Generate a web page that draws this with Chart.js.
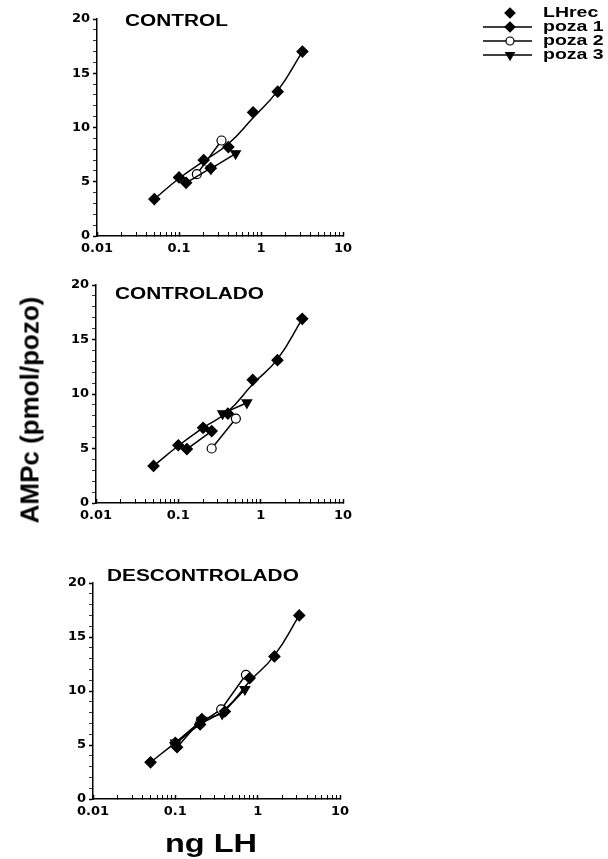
<!DOCTYPE html>
<html>
<head>
<meta charset="utf-8">
<script src="https://cdn.jsdelivr.net/npm/chart.js@4.4.1/dist/chart.umd.min.js"></script>
<style>
  html, body { margin: 0; padding: 0; background: #fff; }
  body { width: 608px; height: 859px; position: relative; overflow: hidden; font-family: Arial, "Liberation Sans", sans-serif; }
  .panel { position: absolute; left: 0; }
  #yTitle {
    position: absolute; left: 30px; top: 410px;
    transform: translate(-50%, -50%) rotate(-90deg);
    font-weight: bold; font-size: 26px; white-space: nowrap; color: #000;
  }
</style>
</head>
<body>
<canvas id="chartControl" class="panel" width="608" height="265" style="top:0px"></canvas>
<canvas id="chartControlado" class="panel" width="608" height="290" style="top:265px"></canvas>
<canvas id="chartDescontrolado" class="panel" width="608" height="304" style="top:555px"></canvas>
<div id="yTitle">AMPc (pmol/pozo)</div>
<script>
// Standard curve doses (ng LH)
const doseLH = [0.05, 0.1, 0.2, 0.4, 0.8, 1.6, 3.2];

// CONTROL
const lhrecControl = [3.4, 5.4, 7.0, 8.2, 11.4, 13.3, 17.0];
const curveControl = [3.4, 5.3, 6.9, 8.5, 10.9, 13.4, 17.0];   // drawn standard curve
const poza1ControlX = [0.122, 0.244];
const poza1ControlY = [4.9, 6.25];
const poza2ControlX = [0.165, 0.33];
const poza2ControlY = [5.7, 8.8];
const poza3ControlX = [0.245, 0.49];
const poza3ControlY = [6.2, 7.6];

// CONTROLADO
const lhrecControlado = [3.4, 5.3, 6.9, 8.2, 11.3, 13.1, 16.9];
const curveControlado = [3.4, 5.25, 6.9, 8.4, 10.9, 13.2, 16.9];
const poza1ControladoX = [0.127, 0.254];
const poza1ControladoY = [4.95, 6.6];
const poza2ControladoX = [0.254, 0.5];
const poza2ControladoY = [5.0, 7.75];
const poza3ControladoX = [0.345, 0.68];
const poza3ControladoY = [8.2, 9.2];

// DESCONTROLADO
const lhrecDescontrolado = [3.4, 5.2, 6.9, 8.1, 11.2, 13.2, 17.0];
const curveDescontrolado = [3.4, 5.2, 6.9, 8.3, 10.9, 13.3, 17.0];
const poza1DescX = [0.105, 0.21];
const poza1DescY = [4.8, 7.4];
const poza2DescX = [0.1, 0.2, 0.36, 0.72];
const poza2DescY = [5.1, 7.0, 8.3, 11.5];
const poza3DescX = [0.1, 0.21, 0.37, 0.7];
const poza3DescY = [5.2, 7.3, 7.9, 10.15];

// Axis ticks
const xMajorTicks = [0.01, 0.1, 1, 10];
const yMajorTicks = [0, 5, 10, 15, 20];

const FONT = 'Arial, "Liberation Sans", sans-serif';
const TICK_FONT = '"DejaVu Sans", Arial, sans-serif';

function toPoints(xs, ys) {
    return xs.map((x, i) => ({ x: x, y: ys[i] }));
}

// log minor ticks 0.01 .. 10
function logTickValues() {
    const vals = [];
    for (let e = -2; e <= 0; e++) {
        for (let m = 1; m <= 9; m++) {
            vals.push(parseFloat((m * Math.pow(10, e)).toPrecision(6)));
        }
    }
    vals.push(10);
    return vals;
}

// the scanned lettering is wide, so stretch it a bit
function wideText(ctx, text, x, y, size, stretch, align) {
    ctx.save();
    ctx.font = 'bold ' + size + 'px ' + FONT;
    ctx.fillStyle = '#000';
    ctx.textBaseline = 'middle';
    ctx.textAlign = 'left';
    const w = ctx.measureText(text).width * stretch;
    const left = align === 'center' ? x - w / 2 : x;
    ctx.translate(left, y);
    ctx.scale(stretch, 1);
    ctx.fillText(text, 0, 0);
    ctx.restore();
}

const styles = {
    lhrec: { pointStyle: 'rectRot', radius: 5.5, rotation: 0, bg: '#000' },
    poza1: { pointStyle: 'rectRot', radius: 5.5, rotation: 0, bg: '#000' },
    poza2: { pointStyle: 'circle', radius: 4.5, rotation: 0, bg: '#fff' },
    poza3: { pointStyle: 'triangle', radius: 5.5, rotation: 180, bg: '#000' }
};

function dataset(label, points, st, showLine) {
    return {
        label: label,
        data: points,
        showLine: showLine,
        borderColor: '#000',
        borderWidth: 1.5,
        backgroundColor: st.bg,
        pointBackgroundColor: st.bg,
        pointBorderColor: '#000',
        pointBorderWidth: 1.2,
        pointStyle: st.pointStyle,
        pointRadius: st.radius,
        pointRotation: st.rotation,
        tension: 0,
        order: 0
    };
}

function curveDataset(points) {
    return {
        label: 'curva LHrec',
        data: points,
        showLine: true,
        borderColor: '#000',
        borderWidth: 1.5,
        pointRadius: 0,
        tension: 0.5,
        order: 2
    };
}

// Panel title inside the plot, x axis title under the last panel
const panelTextPlugin = {
    id: 'panelText',
    afterDraw(chart, args, opts) {
        if (!opts) return;
        if (opts.title) {
            wideText(chart.ctx, opts.title, opts.x, opts.y, 16, 1.3, 'left');
        }
        if (opts.xTitle) {
            wideText(chart.ctx, opts.xTitle, opts.xTitleX, opts.xTitleY, 25, 1.3, 'center');
        }
    }
};

// Legend in the top right corner
const sideLegendPlugin = {
    id: 'sideLegend',
    afterDraw(chart, args, opts) {
        if (!opts || !opts.show) return;
        const ctx = chart.ctx;
        const entries = [
            { text: 'LHrec', st: styles.lhrec, line: false },
            { text: 'poza 1', st: styles.poza1, line: true },
            { text: 'poza 2', st: styles.poza2, line: true },
            { text: 'poza 3', st: styles.poza3, line: true }
        ];
        entries.forEach((en, i) => {
            const y = opts.y + i * opts.rowGap;
            ctx.save();
            if (en.line) {
                ctx.strokeStyle = '#000';
                ctx.lineWidth = 1.5;
                ctx.beginPath();
                ctx.moveTo(opts.x - 27, y);
                ctx.lineTo(opts.x + 22, y);
                ctx.stroke();
            }
            ctx.fillStyle = en.st.bg;
            ctx.strokeStyle = '#000';
            ctx.lineWidth = 1.2;
            Chart.helpers.drawPoint(ctx, {
                pointStyle: en.st.pointStyle,
                radius: en.st.radius - 0.5,
                rotation: en.st.rotation,
                borderWidth: 1.2
            }, opts.x, y);
            ctx.restore();
            wideText(ctx, en.text, opts.x + 33, y, 15, 1.3, 'left');
        });
    }
};

function makeChart(canvasId, box, lhrecY, curveY, p1, p2, p3, text, showLegend) {
    const canvas = document.getElementById(canvasId);
    const W = canvas.width, H = canvas.height;
    return new Chart(canvas.getContext('2d'), {
        type: 'scatter',
        data: {
            datasets: [
                curveDataset(toPoints(doseLH, curveY)),
                dataset('LHrec', toPoints(doseLH, lhrecY), styles.lhrec, false),
                dataset('poza 1', toPoints(p1[0], p1[1]), styles.poza1, true),
                dataset('poza 2', toPoints(p2[0], p2[1]), styles.poza2, true),
                dataset('poza 3', toPoints(p3[0], p3[1]), styles.poza3, true)
            ]
        },
        options: {
            responsive: false,
            animation: false,
            layout: {
                padding: { left: 0, top: box.top, right: W - box.right, bottom: 0 }
            },
            scales: {
                x: {
                    type: 'logarithmic',
                    min: 0.01,
                    max: 10,
                    border: { display: true, color: '#000', width: 1.5 },
                    grid: {
                        drawOnChartArea: false,
                        drawTicks: true,
                        tickLength: -4,
                        tickColor: '#000',
                        tickWidth: (c) => (c.tick && xMajorTicks.includes(c.tick.value)) ? 1.5 : 1
                    },
                    afterBuildTicks: (scale) => {
                        scale.ticks = logTickValues().map(v => ({ value: v }));
                    },
                    ticks: {
                        autoSkip: false,
                        maxRotation: 0,
                        color: '#000',
                        padding: 9,
                        font: { family: TICK_FONT, size: 13, weight: 'bold' },
                        callback: (v) => xMajorTicks.includes(v) ? String(v) : ''
                    },
                    afterFit: (scale) => { scale.height = H - box.bottom; }
                },
                y: {
                    min: 0,
                    max: 20,
                    border: { display: true, color: '#000', width: 1.5 },
                    grid: {
                        drawOnChartArea: false,
                        drawTicks: true,
                        tickLength: 4,
                        tickColor: '#000',
                        tickWidth: (c) => (c.tick && c.tick.value % 5 === 0) ? 1.5 : 0.8
                    },
                    ticks: {
                        stepSize: 1,
                        autoSkip: false,
                        color: '#000',
                        padding: 3,
                        font: { family: TICK_FONT, size: 13, weight: 'bold' },
                        callback: (v) => yMajorTicks.includes(v) ? String(v) : ''
                    },
                    afterFit: (scale) => { scale.width = box.left; }
                }
            },
            plugins: {
                legend: { display: false },
                tooltip: { enabled: false },
                panelText: text,
                sideLegend: { show: showLegend, x: 510, y: 13, rowGap: 14 }
            }
        },
        plugins: [panelTextPlugin, sideLegendPlugin]
    });
}

makeChart('chartControl', { left: 97, right: 343, top: 19, bottom: 236 },
    lhrecControl, curveControl,
    [poza1ControlX, poza1ControlY], [poza2ControlX, poza2ControlY], [poza3ControlX, poza3ControlY],
    { title: 'CONTROL', x: 125, y: 22 }, true);

makeChart('chartControlado', { left: 96, right: 343, top: 20, bottom: 238 },
    lhrecControlado, curveControlado,
    [poza1ControladoX, poza1ControladoY], [poza2ControladoX, poza2ControladoY], [poza3ControladoX, poza3ControladoY],
    { title: 'CONTROLADO', x: 115, y: 30 }, false);

makeChart('chartDescontrolado', { left: 93, right: 340, top: 28, bottom: 244 },
    lhrecDescontrolado, curveDescontrolado,
    [poza1DescX, poza1DescY], [poza2DescX, poza2DescY], [poza3DescX, poza3DescY],
    { title: 'DESCONTROLADO', x: 107, y: 22, xTitle: 'ng LH', xTitleX: 211, xTitleY: 290 }, false);
</script>
</body>
</html>
